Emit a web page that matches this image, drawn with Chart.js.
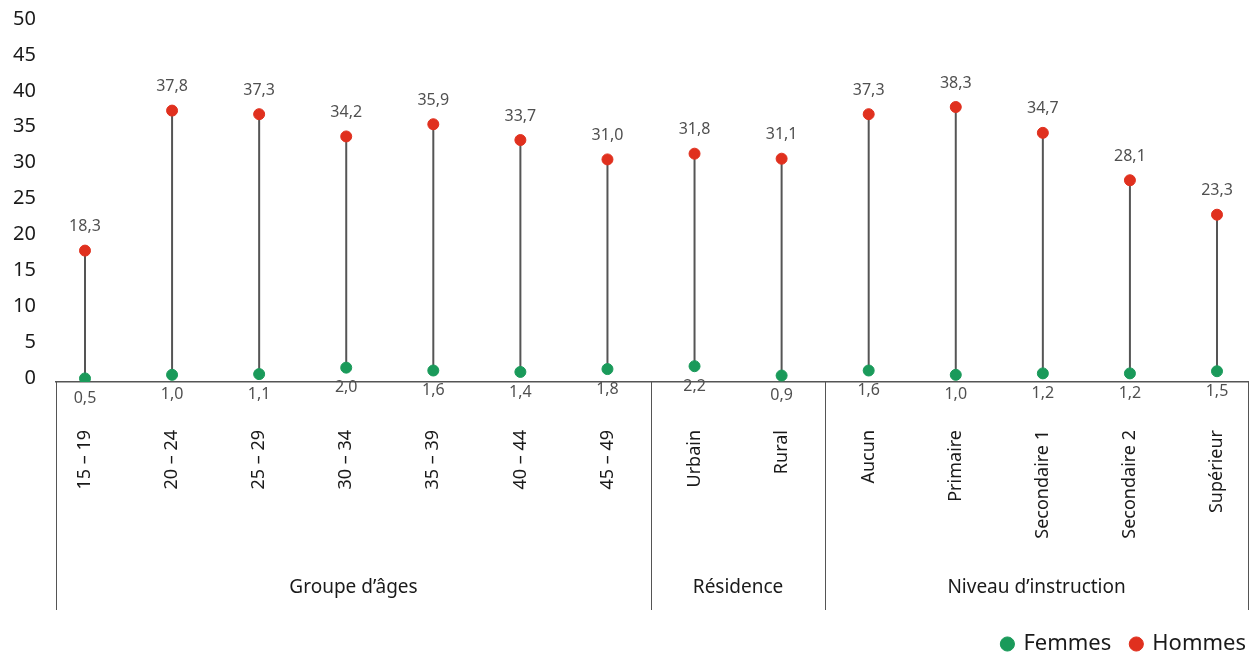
<!DOCTYPE html>
<html>
<head>
<meta charset="utf-8">
<script src="https://cdn.jsdelivr.net/npm/chart.js@4/dist/chart.umd.min.js"></script>
<style>
  html, body { margin: 0; padding: 0; background: #fff; }
  #wrap { width: 1256px; height: 658px; }
</style>
</head>
<body>
<div id="wrap"><canvas id="chart" width="1256" height="658"></canvas></div>
<script>
const categories = ['15 – 19', '20 – 24', '25 – 29', '30 – 34', '35 – 39', '40 – 44', '45 – 49',
  'Urbain', 'Rural', 'Aucun', 'Primaire', 'Secondaire 1', 'Secondaire 2', 'Supérieur'];
const femmes = [0.5, 1.0, 1.1, 2.0, 1.6, 1.4, 1.8, 2.2, 0.9, 1.6, 1.0, 1.2, 1.2, 1.5];
const hommes = [18.3, 37.8, 37.3, 34.2, 35.9, 33.7, 31.0, 31.8, 31.1, 37.3, 38.3, 34.7, 28.1, 23.3];
const groupNames = ['Groupe d’âges', 'Résidence', 'Niveau d’instruction'];
const groupSizes = [7, 2, 5];

const GREEN = '#1a9a5a';
const RED = '#e0301e';
const FONT = "'Noto Sans', 'Open Sans', sans-serif";

const fmt = v => v.toFixed(1).replace('.', ',');

// vertical stems between the two dots
const stems = {
  id: 'stems',
  beforeDatasetsDraw(chart) {
    const { ctx, scales: { x, y } } = chart;
    ctx.save();
    ctx.strokeStyle = '#555';
    ctx.lineWidth = 2;
    categories.forEach((c, i) => {
      const px = x.getPixelForValue(i);
      ctx.beginPath();
      ctx.moveTo(px, y.getPixelForValue(femmes[i]));
      ctx.lineTo(px, y.getPixelForValue(hommes[i]));
      ctx.stroke();
    });
    ctx.restore();
  }
};

// value labels above (hommes) and below (femmes)
const valueLabels = {
  id: 'valueLabels',
  afterDatasetsDraw(chart) {
    const { ctx } = chart;
    ctx.save();
    ctx.font = '16px ' + FONT;
    ctx.fillStyle = '#505050';
    ctx.textAlign = 'center';
    ctx.textBaseline = 'middle';
    chart.data.datasets.forEach((ds, di) => {
      const meta = chart.getDatasetMeta(di);
      meta.data.forEach((pt, i) => {
        const off = di === 0 ? 20 : -24;
        ctx.fillText(fmt(ds.data[i].y), pt.x, pt.y + off);
      });
    });
    ctx.restore();
  }
};

// group separators and group names under the axis
const groups = {
  id: 'groups',
  afterDraw(chart) {
    const { ctx, chartArea, scales: { x } } = chart;
    const top = chartArea.bottom;
    const bottom = 610;
    const edges = [chartArea.left];
    let idx = 0;
    groupSizes.forEach((n, g) => {
      idx += n;
      edges.push(g === groupSizes.length - 1 ? chartArea.right : x.getPixelForValue(idx - 0.5));
    });
    ctx.save();
    ctx.strokeStyle = '#555';
    ctx.lineWidth = 1;
    edges.forEach(e => {
      const px = Math.round(e) + 0.5;
      ctx.beginPath();
      ctx.moveTo(px, top);
      ctx.lineTo(px, bottom);
      ctx.stroke();
    });
    ctx.font = '19px ' + FONT;
    ctx.fillStyle = '#1a1a1a';
    ctx.textAlign = 'center';
    ctx.textBaseline = 'middle';
    groupNames.forEach((name, g) => {
      ctx.fillText(name, (edges[g] + edges[g + 1]) / 2, 588);
    });
    ctx.restore();
  }
};

// nudge the legend box into the bottom-right corner
const legendShift = {
  id: 'legendShift',
  afterLayout(chart) {
    const l = chart.legend;
    if (!l) return;
    l.left += 18; l.right += 18;
    l.top += 7; l.bottom += 7;
  }
};

new Chart(document.getElementById('chart').getContext('2d'), {
  type: 'scatter',
  data: {
    datasets: [
      {
        label: 'Femmes',
        data: femmes.map((v, i) => ({ x: i, y: v })),
        backgroundColor: GREEN,
        borderColor: GREEN,
        pointRadius: 5.5,
        pointHoverRadius: 5.5
      },
      {
        label: 'Hommes',
        data: hommes.map((v, i) => ({ x: i, y: v })),
        backgroundColor: RED,
        borderColor: RED,
        pointRadius: 5.5,
        pointHoverRadius: 5.5
      }
    ]
  },
  options: {
    responsive: false,
    animation: false,
    layout: { padding: { top: 23, right: 8, left: 0, bottom: 0 } },
    plugins: {
      tooltip: { enabled: false },
      legend: {
        position: 'bottom',
        align: 'end',
        labels: {
          usePointStyle: true,
          pointStyle: 'circle',
          boxWidth: 10,
          boxHeight: 10,
          padding: 20,
          color: '#1a1a1a',
          font: { family: FONT, size: 22 }
        }
      }
    },
    scales: {
      x: {
        type: 'linear',
        min: -0.333,
        max: 13.356,
        afterBuildTicks: s => { s.ticks = categories.map((c, i) => ({ value: i })); },
        afterFit: s => { s.height = 224; s.paddingLeft = 0; s.paddingRight = 0; },
        grid: { display: false, drawTicks: false },
        border: { display: true, color: '#555', width: 1.5 },
        ticks: {
          autoSkip: false,
          minRotation: 90,
          maxRotation: 90,
          padding: 48,
          color: '#1a1a1a',
          font: { family: FONT, size: 18 },
          callback: v => categories[v]
        }
      },
      y: {
        min: 0,
        max: 50,
        afterFit: s => { s.width = 56; s.paddingTop = 0; s.paddingBottom = 0; },
        grid: { display: false, drawTicks: false },
        border: { display: false },
        ticks: {
          stepSize: 5,
          padding: 20,
          labelOffset: -4,
          color: '#1a1a1a',
          font: { family: FONT, size: 20 }
        }
      }
    }
  },
  plugins: [stems, valueLabels, groups, legendShift]
});
</script>
</body>
</html>
